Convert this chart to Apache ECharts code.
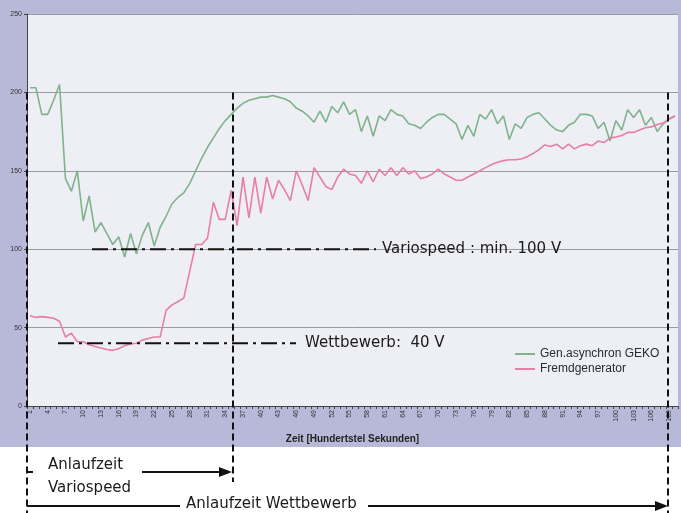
<!DOCTYPE html>
<html>
<head>
<meta charset="utf-8">
<script src="https://cdn.jsdelivr.net/npm/echarts@6/dist/echarts.min.js"></script>
<style>
  html, body { margin: 0; padding: 0; background: #fff; }
  #chart { width: 681px; height: 513px; }
</style>
</head>
<body>
<div id="chart"></div>
<script>
// Zeitachse (Hundertstel Sekunden)
const categories = Array.from({ length: 110 }, (_, i) => String(i + 1))
// Gen.asynchron GEKO
const geko = [
  203, 203, 186, 186, 195, 205, 145, 137, 150, 118,
  134, 111, 117, 110, 103, 108, 95, 110, 97, 109,
  117, 102, 114, 121, 129, 133, 136, 142, 150, 158,
  165, 171, 177, 182, 186, 190, 193, 195, 196, 197,
  197, 198, 197, 196, 194, 190, 188, 185, 181, 188,
  181, 191, 187, 194, 186, 189, 175, 185, 172, 185,
  182, 189, 186, 185, 180, 179, 177, 181, 184, 186,
  186, 183, 180, 170, 179, 172, 186, 183, 189, 180,
  185, 170, 180, 177, 184, 186, 187, 183, 179, 176,
  175, 179, 181, 186, 186, 185, 177, 181, 169, 182,
  176, 189, 184, 189, 179, 184, 175, 180, 183, 185
]
// Fremdgenerator
const fremd = [
  57.5, 56.5, 57, 56.5, 56, 54, 44, 46.5, 41, 41,
  39, 38, 37, 36, 35.5, 36.5, 38.5, 39.5, 40, 42,
  43, 44, 44, 61, 64.5, 66.5, 69, 86, 103, 103,
  107, 130, 119, 119, 137.5, 115, 146, 120, 146, 123,
  146, 132, 144, 138, 131, 150, 141, 131, 152, 146,
  140, 138, 146, 151, 148, 147, 142, 150, 143, 151,
  147, 152, 147, 152, 148, 150, 145, 146, 148, 151,
  148, 146, 144, 144, 146, 148, 150, 152, 154, 155.5,
  156.5, 157, 157, 157.5, 159, 161, 163.5, 166.5, 165.5, 167,
  164, 167, 164, 166, 167, 166, 169, 168, 171, 171.5,
  172.5, 174.5, 174.5, 176, 177.5, 178, 179.5, 180.5, 183, 185
]
const yTicks = [0, 50, 100, 150, 200, 250]
const schwelleVario = 100 // Variospeed : min. 100 V
const schwelleWett = 40 // Wettbewerb: 40 V

const myChart = echarts.init(document.getElementById('chart'))
const option = {
  backgroundColor: '#ffffff',
  animation: false,
  grid: {
    left: 27,
    right: 3,
    top: 14,
    bottom: 107,
    show: true,
    backgroundColor: '#eeeef5',
    borderWidth: 0
  },
  legend: {
    orient: 'vertical',
    left: 510,
    top: 343,
    itemGap: 3,
    itemWidth: 20,
    itemHeight: 2,
    icon: 'rect',
    textStyle: { fontFamily: 'Liberation Sans', fontSize: 12, color: '#2a2a35' },
    data: ['Gen.asynchron GEKO', 'Fremdgenerator']
  },
  xAxis: {
    type: 'category',
    data: categories,
    boundaryGap: true,
    name: 'Zeit [Hundertstel Sekunden]',
    nameLocation: 'middle',
    nameGap: 28,
    nameTextStyle: { fontFamily: 'Liberation Sans', fontWeight: 'bold', fontSize: 10, color: '#222' },
    axisLine: { lineStyle: { color: '#444', width: 1 } },
    axisTick: { show: true, interval: 0, length: 3, lineStyle: { color: '#444' } },
    axisLabel: { interval: 2, rotate: 90, fontSize: 7, color: '#333', margin: 4, fontFamily: 'Liberation Sans' },
    splitLine: { show: false }
  },
  yAxis: {
    type: 'value',
    min: 0,
    max: 250,
    interval: 50,
    axisLine: { show: true, lineStyle: { color: '#444' } },
    axisTick: { show: true, length: 3, lineStyle: { color: '#444' } },
    axisLabel: {
      fontSize: 7, color: '#333', margin: 5, fontFamily: 'Liberation Sans',
      formatter: v => (yTicks.indexOf(v) >= 0 ? String(v) : '')
    },
    splitLine: { show: true, lineStyle: { color: '#9a9aa2', width: 1 } }
  },
  series: [
    {
      name: 'Gen.asynchron GEKO',
      type: 'line',
      data: geko,
      symbol: 'none',
      lineStyle: { color: '#7fb38c', width: 1.6 },
      itemStyle: { color: '#7fb38c' }
    },
    {
      name: 'Fremdgenerator',
      type: 'line',
      data: fremd,
      symbol: 'none',
      lineStyle: { color: '#e77ea6', width: 1.6 },
      itemStyle: { color: '#e77ea6' }
    }
  ]
}
myChart.setOption(option)

// Annotationen (gestrichelte Linien, Texte, Pfeile)
const yPx = v => myChart.convertToPixel({ yAxisIndex: 0 }, v)
const y200 = yPx(200)
const y100 = yPx(schwelleVario)
const y40 = yPx(schwelleWett)
const dashed = { stroke: '#111', lineWidth: 2, lineDash: [7, 4] }
const dashDot = { stroke: '#111', lineWidth: 2, lineDash: [16, 5, 3, 5] }
const labelFont = '15px "DejaVu Sans", sans-serif'

function arrow(x1, x2, y) {
  return [
    { type: 'line', shape: { x1: x1, y1: y, x2: x2 - 10, y2: y }, style: { stroke: '#111', lineWidth: 2 }, z: 50 },
    { type: 'polygon', shape: { points: [[x2, y], [x2 - 13, y - 5], [x2 - 13, y + 5]] }, style: { fill: '#111' }, z: 50 }
  ]
}

myChart.setOption({
  graphic: [
    { type: 'rect', shape: { x: 0, y: 0, width: 681, height: 447 }, style: { fill: '#b8b8d9' }, z: -10, silent: true },
    // vertical markers
    { type: 'line', shape: { x1: 27, y1: y200, x2: 27, y2: 513 }, style: dashed, z: 50 },
    { type: 'line', shape: { x1: 233, y1: y200, x2: 233, y2: 482 }, style: dashed, z: 50 },
    { type: 'line', shape: { x1: 668, y1: y200, x2: 668, y2: 513 }, style: dashed, z: 50 },
    // horizontal thresholds
    { type: 'line', shape: { x1: 92, y1: y100, x2: 376, y2: y100 }, style: dashDot, z: 50 },
    { type: 'text', x: 382, y: y100, style: { text: 'Variospeed : min. 100 V', font: labelFont, fill: '#1a1a1a', verticalAlign: 'middle' }, z: 50 },
    { type: 'line', shape: { x1: 58, y1: y40, x2: 296, y2: y40 }, style: dashDot, z: 50 },
    { type: 'text', x: 305, y: y40, style: { text: 'Wettbewerb:  40 V', font: labelFont, fill: '#1a1a1a', verticalAlign: 'middle' }, z: 50 },
    // bottom annotations
    { type: 'line', shape: { x1: 27, y1: 472, x2: 33, y2: 472 }, style: { stroke: '#111', lineWidth: 2 }, z: 50 },
    { type: 'text', x: 48, y: 465, style: { text: 'Anlaufzeit', font: labelFont, fill: '#1a1a1a', verticalAlign: 'middle' }, z: 50 },
    { type: 'text', x: 48, y: 488, style: { text: 'Variospeed', font: labelFont, fill: '#1a1a1a', verticalAlign: 'middle' }, z: 50 },
    ...arrow(142, 232, 472),
    { type: 'line', shape: { x1: 27, y1: 506, x2: 180, y2: 506 }, style: { stroke: '#111', lineWidth: 2 }, z: 50 },
    { type: 'text', x: 186, y: 504, style: { text: 'Anlaufzeit Wettbewerb', font: labelFont, fill: '#1a1a1a', verticalAlign: 'middle' }, z: 50 },
    ...arrow(368, 668, 506)
  ]
})
</script>
</body>
</html>
